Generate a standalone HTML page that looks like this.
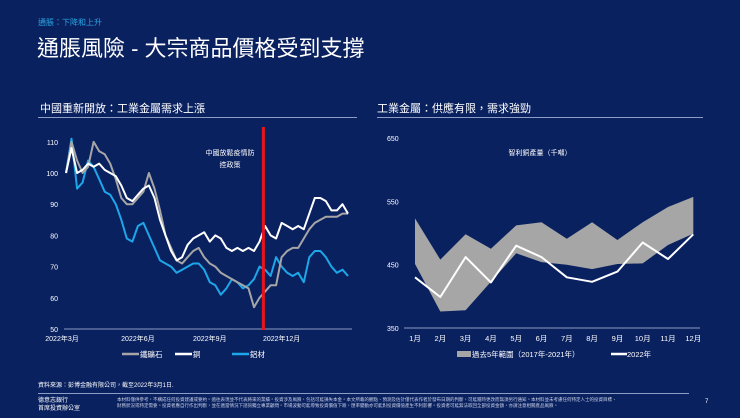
<!DOCTYPE html>
<html><head><meta charset="utf-8">
<style>
html,body{margin:0;padding:0;}
body{width:740px;height:418px;background:#0a2160;position:relative;overflow:hidden;font-family:"Liberation Sans","Noto Sans CJK TC",sans-serif;color:#fff;}
.a{position:absolute;white-space:nowrap;}
</style></head><body>
<div class="a" style="left:38px;top:17px;font-size:8px;color:#29a3e0;">通脹：下降和上升</div>
<div class="a" style="left:37px;top:31px;font-size:22px;color:#fff;">通脹風險 - 大宗商品價格受到支撐</div>
<div class="a" style="left:40px;top:100px;font-size:11px;">中國重新開放：工業金屬需求上漲</div>
<div class="a" style="left:38px;top:117px;width:319px;height:1px;background:#8c9cc4;"></div>
<div class="a" style="left:377px;top:100px;font-size:11px;">工業金屬：供應有限，需求強勁</div>
<div class="a" style="left:377px;top:117px;width:326px;height:1px;background:#8c9cc4;"></div>

<svg id="left" class="a" style="left:0;top:0" width="370" height="370"></svg>
<svg id="right" class="a" style="left:370px;top:0" width="370" height="370"></svg>

<div class="a" style="left:38px;top:380px;font-size:6px;">資料來源：彭博金融有限公司，截至2022年3月1日.</div>
<div class="a" style="left:38px;top:393px;width:651px;height:1px;background:#8c9cc4;"></div>
<div class="a" style="left:38px;top:397px;font-size:6px;line-height:8px;">德意志銀行<br>首席投資辦公室</div>
<div class="a" style="left:117px;top:397px;font-size:4.5px;line-height:6px;color:#c8d0e6;">本材料僅供參考，不構成任何投資建議或要約。過往表現並不代表將來的業績。投資涉及風險，包括可能損失本金。本文所載的觀點、預測及估計僅代表作者於發布日期的判斷，可能隨時更改而無須另行通知。本材料並未考慮任何特定人士的投資目標、<br>財務狀況或特定需要。投資者應自行作出判斷，並在適當情況下諮詢獨立專業顧問。市場波動可能導致投資價值下跌，匯率變動亦可能對投資價值產生不利影響。投資者可能無法取回全部投資金額，亦請注意相關產品風險。</div>
<div class="a" style="left:705px;top:399px;font-size:6px;">7</div>

<script>
// Left chart data (weekly, index 100 = 2022-03-01)
const leftXTicks = ["2022年3月","2022年6月","2022年9月","2022年12月"];
const leftYTicks = [50,60,70,80,90,100,110];
const copper = [100,108,100,101,103,102,103,101,100,99,96,92,91,93,95,96,92,85,80,75,72,73,77,79,80,81,78,80,79,76,75,76,75,76,75,78,83,80,79,84,83,82,83,82,87,92,92,91,88,88,90,87];
const ironOre = [100,110,104,100,102,110,107,106,103,98,92,90,90,92,94,100,95,88,80,76,72,71,73,75,76,73,71,70,68,67,66,65,64,63,57,60,62,64,64,73,75,76,76,79,82,84,85,86,86,86,87,87];
const aluminium = [100,111,95,97,104,102,98,94,93,90,85,79,78,83,84,80,76,72,71,70,68,69,70,71,71,69,65,64,61,63,66,65,63,64,66,70,69,67,73,70,68,67,68,65,73,75,75,73,70,68,69,67];
const policyWeek = 35.7;

// Right chart data
const months = ["1月","2月","3月","4月","5月","6月","7月","8月","9月","10月","11月","12月"];
const rightYTicks = [350,450,550,650];
const bandHigh = [523,458,498,475,512,517,491,517,489,517,541,557];
const bandLow = [451,376,378,423,468,454,450,443,451,452,481,499];
const y2022 = [430,399,462,422,480,462,430,423,439,485,459,498];

const NS="http://www.w3.org/2000/svg";
function mk(p,tag,attrs,txt){const e=document.createElementNS(NS,tag);for(const k in attrs)e.setAttribute(k,attrs[k]);if(txt!==undefined)e.textContent=txt;p.appendChild(e);return e;}

// LEFT
const L=document.getElementById('left');
const lx=w=>66+w*(282/51), ly=v=>329-(v-50)*3.12;
leftYTicks.forEach(v=>{const t=mk(L,'text',{x:58,y:ly(v)+3,'text-anchor':'end','font-size':7,fill:'#fff'},v);

});
const la=mk(L,'line',{x1:64,x2:352,y1:329,y2:329,stroke:'#8c9cc4','stroke-width':1});


leftXTicks.forEach((s,i)=>{const t=mk(L,'text',{x:lx(i*13)+(i==0?-4:0),y:341,'text-anchor':'middle','font-size':7,fill:'#fff'},s);

});
function line(P,arr,fx,fy,col,w,name){const d=arr.map((v,i)=>(i?'L':'M')+fx(i).toFixed(1)+','+fy(v).toFixed(1)).join('');const p=mk(P,'path',{d:d,fill:'none',stroke:col,'stroke-width':w,'stroke-linejoin':'round'});

}
line(L,aluminium,lx,ly,'#1ea7e8',2,'aluminium-line');
line(L,ironOre,lx,ly,'#a6a6a6',2,'iron-ore-line');
line(L,copper,lx,ly,'#ffffff',2,'copper-line');
const rl=mk(L,'line',{x1:lx(policyWeek),x2:lx(policyWeek),y1:127,y2:330,stroke:'#e8141b','stroke-width':3});


const an=mk(L,'text',{x:230,y:155,'text-anchor':'middle','font-size':7,fill:'#fff'});


mk(an,'tspan',{x:230,dy:0},'中國放鬆疫情防');mk(an,'tspan',{x:230,dy:12},'控政策');
[['鐵礦石','#a6a6a6',122],['銅','#ffffff',175],['鋁材','#1ea7e8',232]].forEach(([n,c,x])=>{
const g=mk(L,'g',{});


mk(g,'line',{x1:x,x2:x+17,y1:354,y2:354,stroke:c,'stroke-width':2.5});
mk(g,'text',{x:x+18,y:357,'font-size':7.5,fill:'#fff'},n);});

// RIGHT
const R=document.getElementById('right');
const rx=i=>45+i*25.3, ry=v=>328-(v-350)*(190/300);
rightYTicks.forEach(v=>{const t=mk(R,'text',{x:17,y:ry(v)+3,'font-size':7,fill:'#fff'},v);

});
const ra=mk(R,'line',{x1:34,x2:330,y1:328,y2:328,stroke:'#8c9cc4','stroke-width':1});


months.forEach((m,i)=>{const t=mk(R,'text',{x:rx(i),y:341,'text-anchor':'middle','font-size':7.5,fill:'#fff'},m);

});
let bd=bandHigh.map((v,i)=>(i?'L':'M')+rx(i).toFixed(1)+','+ry(v).toFixed(1)).join('');
for(let i=bandLow.length-1;i>=0;i--)bd+='L'+rx(i).toFixed(1)+','+ry(bandLow[i]).toFixed(1);
const band=mk(R,'path',{d:bd+'Z',fill:'#a6a6a6'});


line(R,y2022,rx,ry,'#ffffff',2,'line-2022');
const rt=mk(R,'text',{x:170,y:155,'text-anchor':'middle','font-size':7,fill:'#fff'},'智利銅產量（千噸）');


const g1=mk(R,'g',{});


mk(g1,'rect',{x:87,y:351,width:14,height:6,fill:'#a6a6a6'});
mk(g1,'text',{x:102,y:357,'font-size':7.5,fill:'#fff'},'過去5年範圍（2017年-2021年）');
const g2=mk(R,'g',{});


mk(g2,'line',{x1:241,x2:257,y1:354,y2:354,stroke:'#fff','stroke-width':2.5});
mk(g2,'text',{x:257,y:357,'font-size':7.5,fill:'#fff'},'2022年');
</script>
</body></html>
